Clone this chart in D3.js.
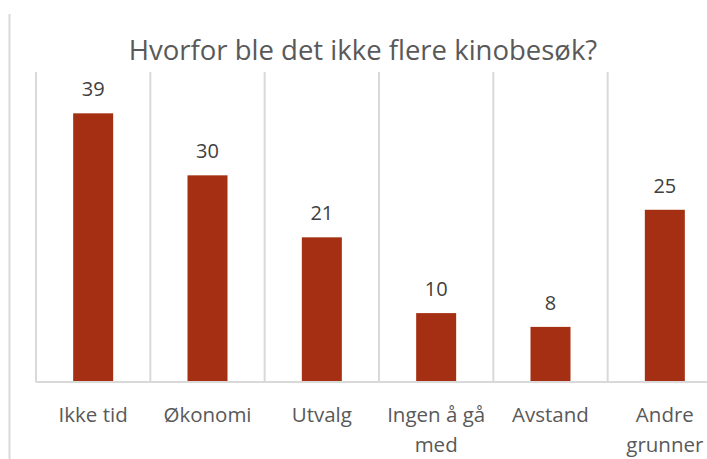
<!DOCTYPE html>
<html><head><meta charset="utf-8">
<script src="https://cdn.jsdelivr.net/npm/d3@7"></script>
<style>html,body{margin:0;padding:0;background:#fff;}svg{display:block;}</style>
</head><body>
<svg id="c" width="707" height="459"></svg>
<script>
const categories = [["Ikke tid"], ["Økonomi"], ["Utvalg"], ["Ingen å gå", "med"], ["Avstand"], ["Andre", "grunner"]];
const values = [39, 30, 21, 10, 8, 25];
const title = "Hvorfor ble det ikke flere kinobesøk?";
const yMax = 45;

(function () {
const svg = d3.select("#c");
const font = "'Open Sans', sans-serif";
const textColor = "#595959";
const mLeft = 36, mRight = 722, mTop = 72, mBottom = 382;

svg.append("line").attr("x1", 9.5).attr("x2", 9.5).attr("y1", 14).attr("y2", 459)
  .attr("stroke", "#d9d9d9").attr("stroke-width", 2);

const x = d3.scaleBand().domain(d3.range(categories.length)).range([mLeft, mRight]).paddingInner(0).paddingOuter(0);
const y = d3.scaleLinear().domain([0, yMax]).range([mBottom, mTop]);

const bounds = d3.range(categories.length + 1).map(i => mLeft + i * x.bandwidth());
svg.append("g").selectAll("line").data(bounds).join("line")
  .attr("x1", d => d).attr("x2", d => d).attr("y1", y(yMax)).attr("y2", mBottom)
  .attr("stroke", "#d9d9d9").attr("stroke-width", 2);

svg.append("line").attr("x1", mLeft).attr("x2", mRight).attr("y1", mBottom).attr("y2", mBottom)
  .attr("stroke", "#d9d9d9").attr("stroke-width", 2);

const barW = 40;
svg.append("g").selectAll("rect").data(values).join("rect")
  .attr("x", (d, i) => x(i) + x.bandwidth() / 2 - barW / 2)
  .attr("width", barW)
  .attr("y", d => y(d))
  .attr("height", d => mBottom - y(d) - 1)
  .attr("fill", "#A52F13");

svg.append("g").selectAll("text").data(values).join("text")
  .attr("x", (d, i) => x(i) + x.bandwidth() / 2)
  .attr("y", d => y(d) - 17)
  .attr("text-anchor", "middle")
  .attr("font-family", font).attr("font-size", 20).attr("fill", "#404040")
  .text(d => d);

const lab = svg.append("g").selectAll("text").data(categories).join("text")
  .attr("x", (d, i) => x(i) + x.bandwidth() / 2)
  .attr("y", 422)
  .attr("text-anchor", "middle")
  .attr("font-family", font).attr("font-size", 20.5).attr("fill", textColor);
lab.selectAll("tspan").data(d => d).join("tspan")
  .attr("x", function() { return d3.select(this.parentNode).attr("x"); })
  .attr("dy", (d, i) => i === 0 ? 0 : 30)
  .text(d => d);

svg.append("text").attr("x", 363).attr("y", 59.5).attr("text-anchor", "middle")
  .attr("font-family", font).attr("font-size", 27.5).attr("fill", textColor)
  .text(title);
})();
</script>
</body></html>
